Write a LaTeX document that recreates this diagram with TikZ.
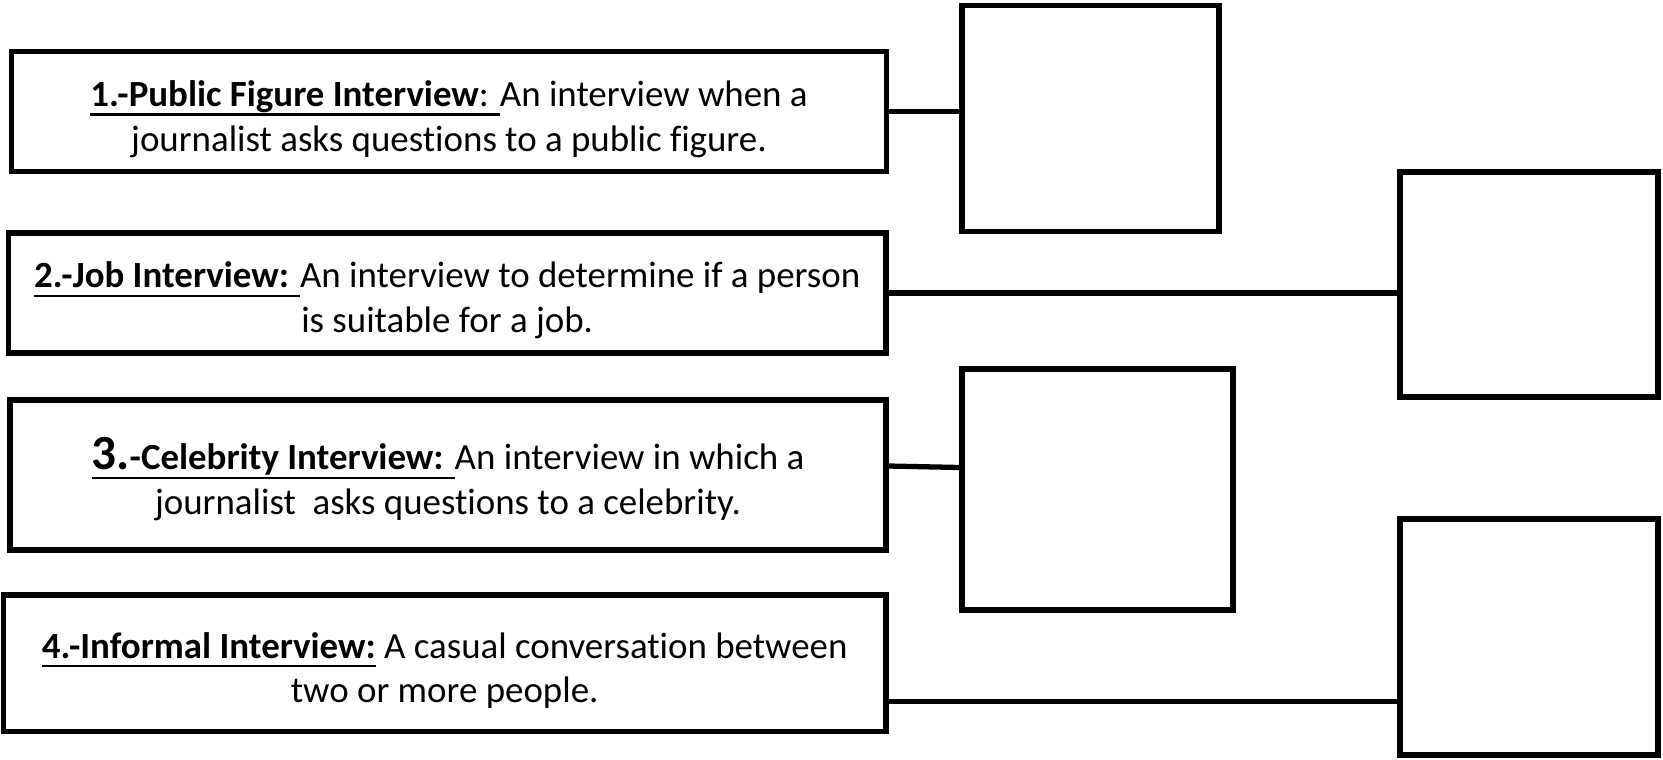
\documentclass[tikz,border=0pt]{standalone}
\usepackage{fontspec}
\setmainfont[Ligatures=NoCommon]{Carlito}
\newcommand{\ulword}[1]{\setbox0\hbox{#1}\rlap{\rule[-2.6pt]{\wd0}{0.6pt}}\box0\relax}
\newcommand{\topgap}{\rule{0pt}{11.5pt}}
\begin{document}
\begin{tikzpicture}
[x=1cm, y=1cm,
 defn/.style={rectangle, draw=black, line width=1.5pt, align=center, inner sep=0pt, font=\fontsize{10.5}{12.7}\selectfont},
 blank/.style={rectangle, draw=black, line width=1.5pt, inner sep=0pt},
 link/.style={black, line width=1.5pt},
]

\useasboundingbox (0,0) rectangle (16.63,-7.59);

%definitions
\node[defn, minimum width=8.743cm, minimum height=1.2cm]   (pub) at (4.49,-1.117)  {\topgap\ulword{\textbf{1.-Public Figure Interview}: }An interview when a\\ journalist asks questions to a public figure.};
\node[defn, minimum width=8.777cm, minimum height=1.2cm]   (job) at (4.472,-2.93)  {\topgap\ulword{\textbf{2.-Job Interview: }}An interview to determine if a person\\ is suitable for a job.};
\node[defn, minimum width=8.76cm, minimum height=1.5cm]    (cel) at (4.48,-4.75)   {\topgap\ulword{\textbf{{\fontsize{14}{12.7}\selectfont 3.}-Celebrity Interview: }}An interview in which a\\ journalist\ \ asks questions to a celebrity.};
\node[defn, minimum width=8.827cm, minimum height=1.367cm] (inf) at (4.447,-6.633) {\topgap\ulword{\textbf{4.-Informal Interview:}} A casual conversation between\\ two or more people.};

%empty boxes
\node[blank, minimum width=2.57cm, minimum height=2.26cm] (pubbox) at (10.905,-1.187) {};
\node[blank, minimum width=2.58cm, minimum height=2.25cm] (jobbox) at (15.29,-2.845)  {};
\node[blank, minimum width=2.71cm, minimum height=2.41cm] (celbox) at (10.975,-4.895) {};
\node[blank, minimum width=2.58cm, minimum height=2.36cm] (infbox) at (15.29,-6.37)   {};

%connectors
\draw[link] (pub.east) -- (pub.east -| pubbox.west);
\draw[link] (job.east) -- (job.east -| jobbox.west);
\draw[link] ([yshift=0.09cm]cel.east) -- ([yshift=0.22cm]celbox.west);
\draw[link] ([yshift=-0.38cm]inf.east) -- ([yshift=-0.38cm]inf.east -| infbox.west);

\end{tikzpicture}
\end{document}
